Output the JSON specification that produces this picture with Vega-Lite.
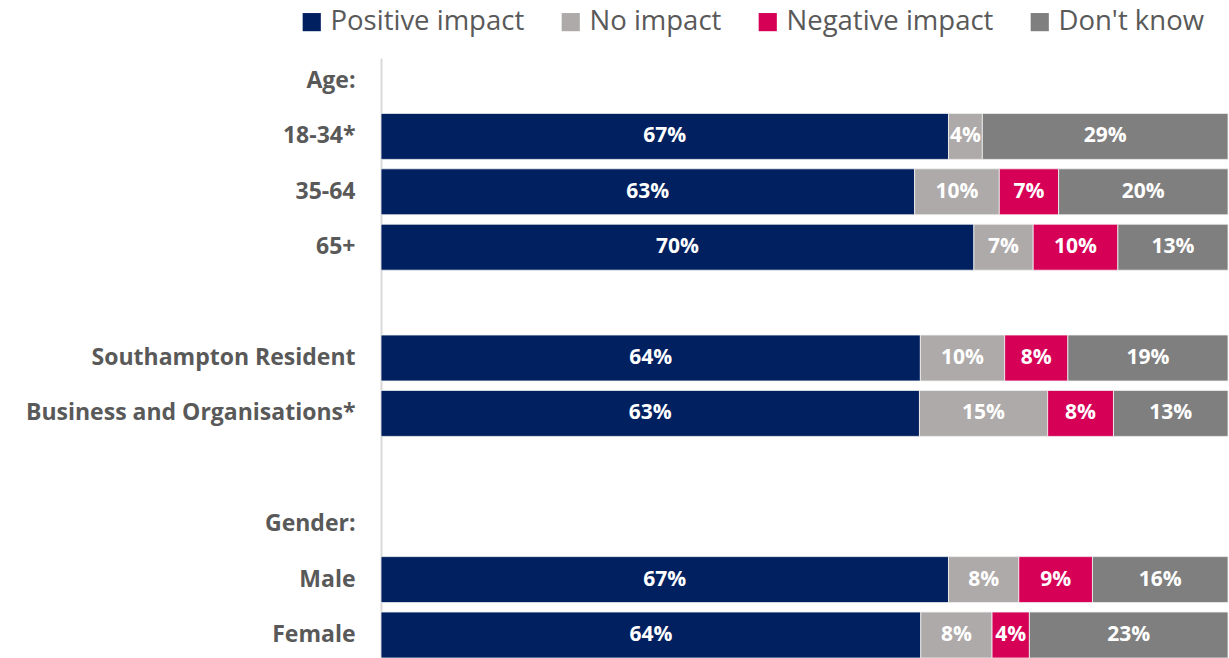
{
  "$schema": "https://vega.github.io/schema/vega-lite/v6.json",
  "autosize": {"type": "none"},
  "width": 847,
  "height": 600,
  "padding": {"left": 381, "top": 58, "right": 1, "bottom": 0},
  "background": "white",
  "config": {"view": {"stroke": null}},
  "data": {"values": [
    {"cat": "18-34*", "type": "Positive impact", "rank": 1, "pct": 0.67},
    {"cat": "18-34*", "type": "No impact", "rank": 2, "pct": 0.04},
    {"cat": "18-34*", "type": "Don't know", "rank": 4, "pct": 0.29},
    {"cat": "35-64", "type": "Positive impact", "rank": 1, "pct": 0.63},
    {"cat": "35-64", "type": "No impact", "rank": 2, "pct": 0.10},
    {"cat": "35-64", "type": "Negative impact", "rank": 3, "pct": 0.07},
    {"cat": "35-64", "type": "Don't know", "rank": 4, "pct": 0.20},
    {"cat": "65+", "type": "Positive impact", "rank": 1, "pct": 0.70},
    {"cat": "65+", "type": "No impact", "rank": 2, "pct": 0.07},
    {"cat": "65+", "type": "Negative impact", "rank": 3, "pct": 0.10},
    {"cat": "65+", "type": "Don't know", "rank": 4, "pct": 0.13},
    {"cat": "Southampton Resident", "type": "Positive impact", "rank": 1, "pct": 0.64},
    {"cat": "Southampton Resident", "type": "No impact", "rank": 2, "pct": 0.10},
    {"cat": "Southampton Resident", "type": "Negative impact", "rank": 3, "pct": 0.075},
    {"cat": "Southampton Resident", "type": "Don't know", "rank": 4, "pct": 0.19},
    {"cat": "Business and Organisations*", "type": "Positive impact", "rank": 1, "pct": 0.63},
    {"cat": "Business and Organisations*", "type": "No impact", "rank": 2, "pct": 0.15},
    {"cat": "Business and Organisations*", "type": "Negative impact", "rank": 3, "pct": 0.077},
    {"cat": "Business and Organisations*", "type": "Don't know", "rank": 4, "pct": 0.134},
    {"cat": "Male", "type": "Positive impact", "rank": 1, "pct": 0.67},
    {"cat": "Male", "type": "No impact", "rank": 2, "pct": 0.083},
    {"cat": "Male", "type": "Negative impact", "rank": 3, "pct": 0.087},
    {"cat": "Male", "type": "Don't know", "rank": 4, "pct": 0.16},
    {"cat": "Female", "type": "Positive impact", "rank": 1, "pct": 0.636},
    {"cat": "Female", "type": "No impact", "rank": 2, "pct": 0.084},
    {"cat": "Female", "type": "Negative impact", "rank": 3, "pct": 0.044},
    {"cat": "Female", "type": "Don't know", "rank": 4, "pct": 0.234}
  ]},
  "encoding": {
    "y": {
      "field": "cat", "type": "nominal", "title": null,
      "scale": {
        "domain": ["Age:", "18-34*", "35-64", "65+", " ", "Southampton Resident", "Business and Organisations*", "  ", "Gender:", "Male", "Female"],
        "paddingInner": 0.17, "paddingOuter": 0
      },
      "axis": {
        "ticks": false, "labelPadding": 26, "labelFont": "Open Sans", "labelFontWeight": "bold",
        "labelFontSize": 23, "labelColor": "#595959", "domainColor": "#D9D9D9", "domainWidth": 2,
        "labelLimit": 400
      }
    },
    "x": {
      "field": "pct", "type": "quantitative", "stack": "normalize",
      "scale": {"domain": [0, 1]}, "axis": null
    },
    "order": {"field": "rank", "type": "quantitative", "sort": "ascending"}
  },
  "layer": [
    {
      "mark": {"type": "bar", "stroke": "#F2F2F2", "strokeWidth": 0.8},
      "encoding": {
        "color": {
          "field": "type", "type": "nominal", "title": null,
          "sort": ["Positive impact", "No impact", "Negative impact", "Don't know"],
          "scale": {
            "domain": ["Positive impact", "No impact", "Negative impact", "Don't know"],
            "range": ["#002060", "#AEAAAA", "#D60057", "#7F7F7F"]
          },
          "legend": {
            "orient": "none", "direction": "horizontal", "legendX": -83, "legendY": -50,
            "symbolType": "square", "symbolSize": 330, "symbolStrokeWidth": 0,
            "labelFont": "Open Sans", "labelFontSize": 27.5, "labelColor": "#595959",
            "labelOffset": 5, "columnPadding": 32, "labelLimit": 400
          }
        }
      }
    },
    {
      "mark": {"type": "text", "color": "white", "font": "Open Sans", "fontWeight": "bold", "fontSize": 21, "align": "center", "baseline": "middle"},
      "encoding": {
        "x": {"field": "pct", "type": "quantitative", "stack": "normalize", "bandPosition": 0.5},
        "detail": {"field": "type", "type": "nominal"},
        "text": {"field": "pct", "type": "quantitative", "format": ".0%"}
      }
    }
  ]
}
